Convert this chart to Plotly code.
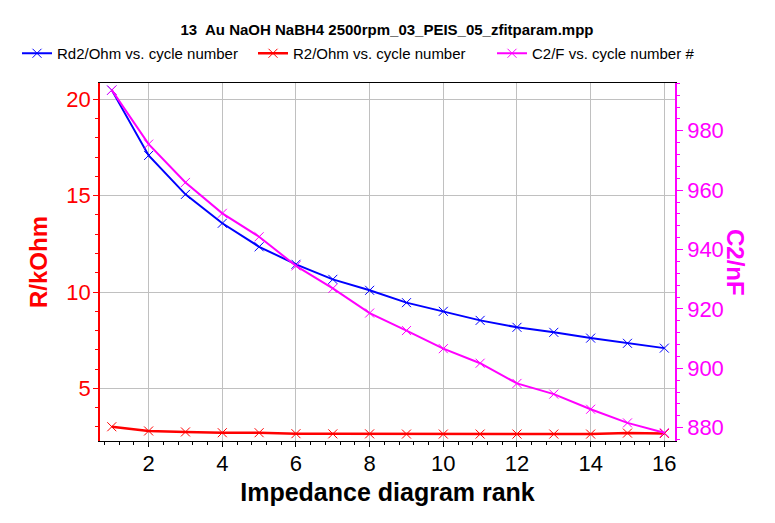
import plotly.graph_objects as go

cycle = list(range(1, 17))
rd2_kohm = [20.48, 17.09, 15.07, 13.57, 12.35, 11.44, 10.66, 10.09, 9.45, 9.00, 8.53, 8.17, 7.91, 7.61, 7.34, 7.09]
r2_kohm = [3.01, 2.79, 2.74, 2.70, 2.70, 2.65, 2.64, 2.64, 2.63, 2.63, 2.63, 2.63, 2.63, 2.63, 2.68, 2.66]
c2_nf = [993.7, 975.5, 962.6, 952.2, 944.3, 934.5, 926.9, 918.6, 912.7, 906.6, 901.7, 894.9, 891.3, 886.2, 881.6, 878.3]

title_text = "13  Au NaOH NaBH4 2500rpm_03_PEIS_05_zfitparam.mpp"
names = ["Rd2/Ohm vs. cycle number", "R2/Ohm vs. cycle number", "C2/F vs. cycle number #"]
colors = ["#0000FF", "#FF0000", "#FF00FF"]

FONT = "Liberation Sans, Arial, sans-serif"
# page body has an 8px margin, so the figure is sized to fit the 775x523 window
W, H = 767, 515

fig = go.Figure()
fig.add_trace(go.Scatter(x=cycle, y=rd2_kohm, name=names[0], mode="lines+markers",
                         line=dict(color=colors[0], width=2),
                         marker=dict(symbol="x-thin", size=9, line=dict(color=colors[0], width=1)),
                         yaxis="y", legend="legend"))
fig.add_trace(go.Scatter(x=cycle, y=r2_kohm, name=names[1], mode="lines+markers",
                         line=dict(color=colors[1], width=2.5),
                         marker=dict(symbol="x-thin", size=9, line=dict(color=colors[1], width=1)),
                         yaxis="y", legend="legend2"))
fig.add_trace(go.Scatter(x=cycle, y=c2_nf, name=names[2], mode="lines+markers",
                         line=dict(color=colors[2], width=2),
                         marker=dict(symbol="x-thin", size=9, line=dict(color=colors[2], width=1)),
                         yaxis="y2", legend="legend3"))


def leg(xpx):
    return dict(orientation="h", x=xpx / W, xref="container", xanchor="left",
                y=1 - 29 / H, yref="container", yanchor="top",
                font=dict(size=15, family=FONT), bgcolor="rgba(0,0,0,0)", itemwidth=30)


fig.update_layout(
    width=W, height=H,
    margin=dict(l=92, r=100, t=75, b=82, autoexpand=False),
    paper_bgcolor="white", plot_bgcolor="white",
    font=dict(family=FONT, color="black"),
    title=dict(text="<b>" + title_text + "</b>", x=(387 - 8) / W, xref="container", xanchor="center",
               y=1 - 22 / H, yref="container", yanchor="middle",
               font=dict(size=15, color="black", family=FONT)),
    showlegend=True,
    legend=leg(9), legend2=leg(245), legend3=leg(484),
    xaxis=dict(range=[0.68, 16.29], tickmode="linear", tick0=0, dtick=2,
               showgrid=True, gridcolor="#C0C0C0", gridwidth=1, zeroline=False,
               showline=True, linecolor="black", linewidth=1, mirror=True,
               ticks="outside", ticklen=5, tickcolor="black", ticklabelstandoff=-2,
               tickfont=dict(size=22, color="black", family=FONT),
               minor=dict(dtick=0.4, tick0=0, ticks="outside", ticklen=3, tickcolor="black", showgrid=False),
               title=dict(text="<b>Impedance diagram rank</b>", font=dict(size=25, color="black", family=FONT),
                          standoff=8)),
    yaxis=dict(range=[2.27, 20.85], tickmode="linear", tick0=0, dtick=5,
               showgrid=True, gridcolor="#C0C0C0", gridwidth=1, zeroline=False,
               showline=True, linecolor="#FF0000", linewidth=1.5,
               ticks="outside", ticklen=5, tickcolor="#FF0000", ticklabelstandoff=-2,
               tickfont=dict(size=22, color="#FF0000", family=FONT),
               minor=dict(dtick=1, tick0=0, ticks="outside", ticklen=3, tickcolor="#FF0000", showgrid=False),
               title=dict(text="<b>R/kOhm</b>", font=dict(size=24, color="#FF0000", family=FONT), standoff=12)),
    yaxis2=dict(range=[875.5, 996.1], overlaying="y", side="right", tickmode="linear", tick0=0, dtick=20,
                showgrid=False, zeroline=False,
                showline=True, linecolor="#FF00FF", linewidth=1.5,
                ticks="outside", ticklen=6, tickcolor="#FF00FF",
                tickfont=dict(size=22, color="#FF00FF", family=FONT),
                minor=dict(dtick=4, tick0=0, ticks="outside", ticklen=3, tickcolor="#FF00FF", showgrid=False)),
    annotations=[dict(text="<b>C2/nF</b>", textangle=90, xref="paper", yref="paper",
                      x=(736 - 100) / 575, y=0.5, xanchor="center", yanchor="middle", showarrow=False,
                      font=dict(size=24, color="#FF00FF", family=FONT))],
)

fig.write_html("out.html")
